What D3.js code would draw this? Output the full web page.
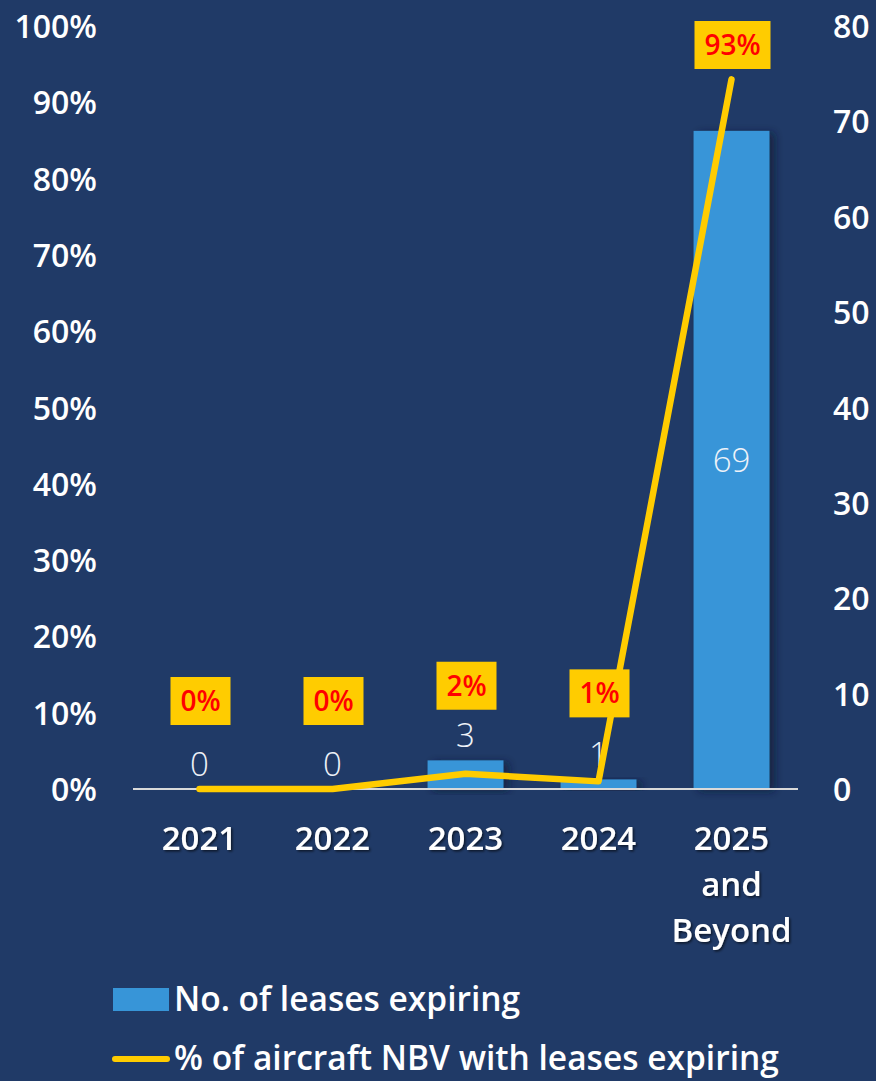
<!DOCTYPE html>
<html><head><meta charset="utf-8">
<script src="https://cdn.jsdelivr.net/npm/d3@7"></script>
<style>
html,body{margin:0;padding:0;background:#203a67;}
svg{display:block;}
text{font-family:"Open Sans",sans-serif;}
</style></head>
<body>
<script>
const categories = ["2021","2022","2023","2024","2025\nand\nBeyond"];
const leasesExpiring = [0,0,3,1,69];
const nbvPct = [0,0,0.02,0.01,0.93];
const nbvLabels = ["0%","0%","2%","1%","93%"];
const leftTicks = [0,0.1,0.2,0.3,0.4,0.5,0.6,0.7,0.8,0.9,1];
const rightTicks = [0,10,20,30,40,50,60,70,80];
const legendLabels = ["No. of leases expiring","% of aircraft NBV with leases expiring"];

const W=876,H=1081;
const svg=d3.select("body").append("svg").attr("width",W).attr("height",H);
svg.append("rect").attr("width",W).attr("height",H).attr("fill","#203a67");

const defs=svg.append("defs");
const f=defs.append("filter").attr("id","sh").attr("x","-20%").attr("y","-20%").attr("width","150%").attr("height","140%");
f.append("feDropShadow").attr("dx",5).attr("dy",2).attr("stdDeviation",4).attr("flood-color","#0d1a33").attr("flood-opacity",0.7);
const ft=defs.append("filter").attr("id","tsh").attr("x","-20%").attr("y","-20%").attr("width","140%").attr("height","140%");
ft.append("feDropShadow").attr("dx",1.5).attr("dy",1.5).attr("stdDeviation",1).attr("flood-color","#000").attr("flood-opacity",0.6);

const x=d3.scaleBand().domain(categories).range([133,798]).paddingInner(0.43).paddingOuter(0.215);
const yL=d3.scaleLinear().domain([0,1]).range([789,26]);
const yR=d3.scaleLinear().domain([0,80]).range([789,26]);
const cx=c=>x(c)+x.bandwidth()/2;

// left axis
const axL=svg.append("g").attr("transform","translate(97,0)")
 .call(d3.axisLeft(yL).tickValues(leftTicks).tickFormat(d3.format(".0%")).tickSize(0).tickPadding(0));
axL.select(".domain").remove();
axL.selectAll("text").attr("fill","#fff").attr("font-size",32).attr("font-weight",600).attr("font-family","Open Sans").attr("dy","0.36em");

// right axis
const axR=svg.append("g").attr("transform","translate(833,0)")
 .call(d3.axisRight(yR).tickValues(rightTicks).tickFormat(d3.format("d")).tickSize(0).tickPadding(0));
axR.select(".domain").remove();
axR.selectAll("text").attr("fill","#fff").attr("font-size",32).attr("font-weight",600).attr("font-family","Open Sans").attr("dy","0.36em");

// bars
svg.append("g").selectAll("rect").data(categories).join("rect")
 .attr("x",d=>x(d)).attr("width",x.bandwidth())
 .attr("y",(d,i)=>yR(leasesExpiring[i])).attr("height",(d,i)=>yR(0)-yR(leasesExpiring[i]))
 .attr("fill","#3795d8").attr("filter","url(#sh)");

// baseline
svg.append("line").attr("x1",133).attr("x2",798).attr("y1",yR(0)).attr("y2",yR(0))
 .attr("stroke","#d9d9d9").attr("stroke-width",2);

// bar value labels
svg.append("g").selectAll("text").data(categories).join("text")
 .attr("x",d=>cx(d))
 .attr("y",(d,i)=> leasesExpiring[i]>20 ? (yR(leasesExpiring[i])+yR(0))/2 : yR(leasesExpiring[i])-13)
 .attr("dy",(d,i)=> leasesExpiring[i]>20 ? "0.36em" : 0)
 .attr("text-anchor","middle").attr("fill","#eef2f8").attr("font-size",33).attr("font-weight",300)
 .text((d,i)=>leasesExpiring[i]);

// line
const line=d3.line().x(d=>cx(d)).y((d,i)=>yL(nbvPct[i]));
svg.append("path").datum(categories).attr("d",line).attr("fill","none")
 .attr("stroke","#ffcc00").attr("stroke-width",6.5).attr("stroke-linecap","round").attr("stroke-linejoin","round");

// line labels
const lg=svg.append("g").selectAll("g").data(categories).join("g")
 .attr("transform",(d,i)=>`translate(${cx(d)+1},${Math.max(yL(nbvPct[i])-88,45)})`);
lg.append("rect").attr("x",(d,i)=>nbvLabels[i].length>2?-38:-30).attr("y",-24)
 .attr("width",(d,i)=>nbvLabels[i].length>2?76:60).attr("height",48).attr("fill","#ffcc00");
lg.append("text").attr("text-anchor","middle").attr("dy","0.36em").attr("fill","#ff0000")
 .attr("font-size",28).attr("font-weight",600).text((d,i)=>nbvLabels[i]);

// x labels
const xl=svg.append("g").selectAll("text").data(categories).join("text")
 .attr("x",d=>cx(d)).attr("y",850).attr("text-anchor","middle").attr("fill","#fff")
 .attr("font-size",33).attr("font-weight",600).attr("filter","url(#tsh)");
xl.each(function(d){
  const t=d3.select(this);
  d.split("\n").forEach((s,k)=>t.append("tspan").attr("x",cx(d)).attr("dy",k?46:0).text(s));
});

// legend
const leg=svg.append("g");
leg.append("rect").attr("x",113).attr("y",988).attr("width",56).attr("height",23).attr("fill","#3795d8");
leg.append("text").attr("x",174).attr("y",999).attr("dy","0.36em").attr("fill","#fff").attr("font-size",33.5).attr("font-weight",600).text(legendLabels[0]);
leg.append("line").attr("x1",115).attr("x2",167).attr("y1",1059).attr("y2",1059).attr("stroke","#ffcc00").attr("stroke-width",6).attr("stroke-linecap","round");
leg.append("text").attr("x",174).attr("y",1058).attr("dy","0.36em").attr("fill","#fff").attr("font-size",33.5).attr("font-weight",600).text(legendLabels[1]);
</script>
</body></html>
